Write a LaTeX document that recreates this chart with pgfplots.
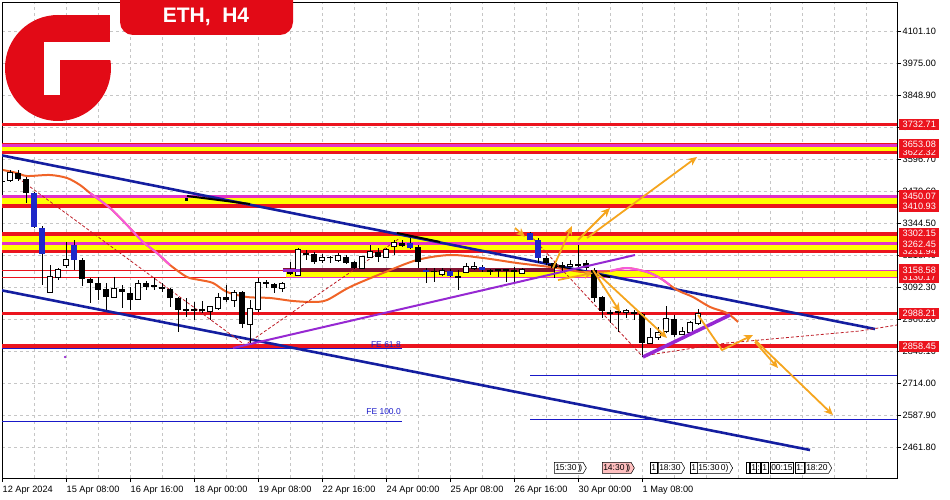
\documentclass[border=0pt]{standalone}
\usepackage{fontspec}
\setmainfont{Liberation Sans}
\usepackage{pgfplots}
\pgfplotsset{compat=1.18}
\usepackage{pgfplotstable}
\usetikzlibrary{arrows.meta,shapes.symbols}

\definecolor{lvlred}{RGB}{235,20,30}
\definecolor{magline}{RGB}{225,50,200}
\definecolor{chblue}{RGB}{20,30,160}
\definecolor{thinblue}{RGB}{25,25,200}
\definecolor{purp}{RGB}{150,40,210}
\definecolor{maorange}{RGB}{240,100,40}
\definecolor{mapink}{RGB}{245,90,220}
\definecolor{arrorange}{RGB}{245,165,30}
\definecolor{zzred}{RGB}{190,30,40}
\definecolor{maroonl}{RGB}{130,20,50}
\definecolor{logored}{RGB}{226,10,22}
\definecolor{candleblue}{RGB}{30,40,200}
\definecolor{bandyellow}{RGB}{255,255,0}

\pgfplotstableread{
i o h l c
1 3514 3553.4 3506 3541.6
6 3072.8 3179.1 3072.8 3131.9
7 3131.9 3167.3 3120 3159.4
8 3179.1 3269.9 3167.3 3198.8
14 3053 3131.9 3053 3084.6
17 3045.2 3120 3045.2 3104.3
26 2997.9 3013.7 2962.4 3013.7
27 3009.8 3068.8 3001.8 3049.1
29 3041.2 3080.6 3013.7 3068.8
31 2946.7 3041.2 2867.9 3005.8
32 3005.8 3127.9 2994 3108.2
35 3088.5 3112.2 3072.8 3104.3
37 3139.7 3246 3135.8 3238.2
40 3198.8 3222.5 3187 3206.7
42 3198.8 3226.4 3190.9 3214.6
45 3167.3 3214.6 3167.3 3210.6
46 3210.6 3257.9 3206.7 3230.4
48 3210.6 3246.1 3206.7 3238.2
49 3254 3277.6 3218.5 3265.8
55 3143.7 3167.3 3135.8 3155.5
58 3151.6 3187 3147.6 3171.2
59 3167.3 3190.9 3159.4 3171.2
65 3147.6 3167.3 3143.7 3159.4
71 3175.2 3198.8 3171.2 3179.1
78 2994 3005.8 2970.3 2997.9
81 2871.8 2931 2871.8 2891.6
82 2895.5 2935 2883.7 2911.2
83 2919.1 3017.6 2911.2 2966.4
85 2907.3 2935 2903.3 2915.2
86 2915.2 2958.5 2911.2 2950.6
87 2950.6 3005.8 2942.8 2986.1
}\bulls

\pgfplotstableread{
i o h l c
0 3508 3514 3500 3506
2 3541.6 3553.4 3510 3517.9
3 3517.9 3525.8 3423.4 3462.8
10 3198.8 3206.7 3096.4 3124.0
11 3124 3127.9 3029.4 3108.2
12 3108.2 3131.9 3041.2 3080.6
13 3084.6 3108.2 3001.8 3053
15 3084.6 3100.3 3009.8 3072.8
16 3068.8 3092.5 3001.8 3041.2
18 3108.2 3116 3080.6 3092.5
19 3096.4 3127.9 3080.6 3094
20 3092.5 3108.2 3072.8 3084.6
21 3084.6 3088.5 3013.7 3049.1
22 3049.1 3053 2915.2 3001.8
23 3005.8 3049.1 2974.3 2997.9
24 3005.8 3033.4 2962.4 2997.9
25 3005.8 3037 2990 2997.9
28 3053 3100.3 3033.4 3041.2
30 3072.8 3076.7 2931 2946.7
33 3112.2 3120 3088.5 3104.3
34 3104.3 3108.2 3068.8 3088.5
36 3151.6 3190.9 3139.7 3143.7
38 3226.4 3238 3198.8 3218.5
39 3222.5 3230.4 3183 3190.9
41 3206.7 3214.6 3187 3205
43 3210.6 3218.5 3183 3187
44 3190.9 3194.9 3163.4 3167.3
47 3230.4 3246.1 3190.9 3210.6
50 3265.8 3277.6 3250 3254
52 3250 3257.9 3167.3 3190.9
54 3151.6 3167.3 3112.2 3150
57 3135.8 3159.4 3080.6 3127.9
61 3159.4 3163.4 3139.7 3151.6
62 3159.4 3163.4 3131.9 3155.5
63 3159.4 3163.4 3112.2 3155.5
64 3155.5 3171.2 3112.2 3151.6
68 3206.7 3214.6 3179.1 3187
69 3187 3190.9 3127.9 3167.3
70 3179.1 3190.9 3147.6 3171.2
72 3179.1 3257.9 3167.3 3175.2
73 3187 3198.8 3159.4 3167.3
74 3159.4 3167.3 3033.4 3049.1
75 3053 3057 2970.3 2997.9
76 2990 3001.8 2950.6 2988
77 2994 2997.9 2915.2 2990
79 2994 3001.8 2962.4 2986.1
80 2986.1 2990 2816.7 2871.8
84 2966.4 2982.1 2895.5 2903.3
}\bears

\pgfplotstableread{
i o h l c
4 3462.8 3466.8 3324.9 3328.9
5 3324.9 3332.8 3100.3 3222.5
9 3257.9 3277.6 3159.4 3198.8
51 3265.8 3285.5 3242 3246.1
53 3159.4 3167.3 3108.2 3151.6
56 3155.5 3163.4 3131.9 3135.8
60 3171.2 3179.1 3151.6 3159.4
66 3305.2 3309.1 3277.6 3277.6
67 3277.6 3285.5 3187 3206.7
}\blues

\pgfplotsset{
  wick/.style={draw=none, mark=none, forget plot,
    error bars/.cd, y dir=both, y explicit, error mark=none,
    error bar style={draw=black, line width=1pt, solid}},
  body/.style 2 args={draw=none, mark=none, forget plot,
    error bars/.cd, y dir=plus, y explicit, error mark=none,
    error bar style={draw=#1, line width=#2, solid}},
  hline/.style={forget plot, mark=none},
}

\begin{document}
\begin{tikzpicture}
\path[use as bounding box] (0pt,0pt) rectangle (950pt,500pt);
\begin{axis}[
  at={(2pt,22pt)}, anchor=south west,
  scale only axis, width=895pt, height=476pt,
  xmin=0, xmax=111.875, ymin=2339.92, ymax=4215.36,
  axis line style={black, line width=0.8pt},
  clip mode=individual,
  xtick={0,8,...,80},
  xticklabels={12 Apr 2024,15 Apr 08:00,16 Apr 16:00,18 Apr 00:00,19 Apr 08:00,22 Apr 16:00,24 Apr 00:00,25 Apr 08:00,26 Apr 16:00,30 Apr 00:00,1 May 08:00},
  minor xtick={4,8,...,108},
  ytick={2461.8,2587.9,2714,2840.1,2966.2,3092.3,3218.4,3344.5,3470.6,3596.7,3722.8,3848.9,3975,4101.1},
  yticklabel pos=right, ytick pos=right, xtick pos=bottom,
  tick align=outside, major tick length=4pt, minor tick length=0pt,
  tick style={black, line width=0.6pt},
  grid=both,
  major grid style={dash pattern=on 3pt off 3pt, gray!45, line width=0.6pt},
  minor grid style={dash pattern=on 3pt off 3pt, gray!45, line width=0.6pt},
  tick label style={font=\fontsize{9.2}{10}\selectfont},
  xticklabel style={anchor=north west, inner xsep=0.5pt, yshift=-1pt},
  yticklabel style={anchor=west, inner xsep=1.5pt,
    /pgf/number format/.cd, fixed, fixed zerofill, precision=2, 1000 sep={}, assume math mode=true},
]
% ---------- yellow bands ----------
\addplot[hline, fill=bandyellow, draw=none] coordinates {(0,3622.32) (111.875,3622.32) (111.875,3653.08) (0,3653.08)};
\addplot[hline, fill=bandyellow, draw=none] coordinates {(0,3410.93) (111.875,3410.93) (111.875,3450.07) (0,3450.07)};
\addplot[hline, fill=bandyellow, draw=none] coordinates {(0,3231.94) (111.875,3231.94) (111.875,3302.15) (0,3302.15)};
\addplot[hline, fill=bandyellow, draw=none] coordinates {(35.5,3130.17) (111.875,3130.17) (111.875,3158.58) (35.5,3158.58)};
% ---------- thin levels ----------
\addplot[hline, lvlred, line width=1.2pt] coordinates {(0,3158.58) (111.875,3158.58)};
\addplot[hline, lvlred, line width=1.2pt] coordinates {(0,3130.17) (111.875,3130.17)};
\addplot[hline, magline, line width=1.2pt] coordinates {(35.5,3130.17) (111.875,3130.17)};
\addplot[hline, magline, line width=1.2pt] coordinates {(69,3158.58) (111.875,3158.58)};
\addplot[hline, maroonl, line width=3.5pt] coordinates {(35.1,3158.58) (69.1,3158.58)};
% ---------- thick levels ----------
\addplot[hline, lvlred, line width=3.5pt] coordinates {(0,3732.71) (111.875,3732.71)};
\addplot[hline, lvlred, line width=2pt] coordinates {(0,3656) (111.875,3656)};
\addplot[hline, magline, line width=2.5pt] coordinates {(0,3650) (111.875,3650)};
\addplot[hline, lvlred, line width=3.5pt] coordinates {(0,3622.32) (111.875,3622.32)};
\addplot[hline, magline, line width=3pt] coordinates {(0,3450.07) (111.875,3450.07)};
\addplot[hline, lvlred, line width=3.5pt] coordinates {(0,3410.93) (111.875,3410.93)};
\addplot[hline, lvlred, line width=3.5pt] coordinates {(0,3302.15) (111.875,3302.15)};
\addplot[hline, magline, line width=3pt] coordinates {(0,3262.45) (111.875,3262.45)};
\addplot[hline, lvlred, line width=3.5pt] coordinates {(0,3231.94) (111.875,3231.94)};
\addplot[hline, lvlred, line width=3.8pt] coordinates {(0,2988.21) (111.875,2988.21)};
\addplot[hline, lvlred, line width=3.8pt] coordinates {(0,2858.45) (111.875,2858.45)};
% ---------- FE lines ----------
\addplot[hline, thinblue, line width=1pt] coordinates {(0,2848.2) (50,2848.2)};
\addplot[hline, thinblue, line width=1pt] coordinates {(0,2560.6) (50,2560.6)};
\addplot[hline, thinblue, line width=1pt] coordinates {(66,2745.7) (111.875,2745.7)};
\addplot[hline, thinblue, line width=1pt] coordinates {(66,2568.5) (111.875,2568.5)};
\node[anchor=south east, text=thinblue, font=\fontsize{8.5}{9}\selectfont, inner sep=1pt] at (axis cs:50,2850) {FE 61.8};
\node[anchor=south east, text=thinblue, font=\fontsize{8.5}{9}\selectfont, inner sep=1pt] at (axis cs:50,2585) {FE 100.0};
% ---------- channels ----------
\addplot[hline, chblue, line width=2.6pt] coordinates {(-0.25,3612.54) (109.125,2926.98)};
\addplot[hline, chblue, line width=2.6pt] coordinates {(-0.25,3080.64) (101,2450.24)};
\addplot[hline, black, line width=2pt] coordinates {(23.125,3451.0) (31,3419.5)};
\addplot[hline, black, line width=2pt] coordinates {(49.375,3305.2) (54.75,3269.8)};
\addplot[hline, black, line width=2pt] coordinates {(68.25,3179.1) (76,3131.9)};
% ---------- moving average ----------
\addplot[hline, maorange, line width=2pt, smooth] coordinates {
(0.125,3553.4) (1.875,3541.6) (3.125,3529.8) (6,3533.7) (8.125,3521.9) (9.75,3494.3)
(11,3462.8) (13.5,3403.7) (15.625,3336.7) (17.625,3269.9) (19.375,3226.4) (21,3179.1)
(23.125,3131.9) (24.75,3120) (26.375,3108.2) (28.125,3072.8) (30.625,3053) (33.5,3049.1)
(36.375,3037.3) (38.875,3033.4) (40.625,3041.2) (43.5,3092.5) (47.625,3147.6) (51.875,3198.8)
(56,3218.5) (60.125,3206.7) (64.375,3187) (68.5,3171.2) (72.625,3151.6) (76,3155.5)
(78.125,3167.3) (80.625,3151.6) (82.25,3127.9) (84.375,3080.6) (86.375,3053) (88.5,3013.7)
(90.625,2990) (92,2954.6)};
\addplot[hline, mapink, line width=2pt, smooth] coordinates {
(11,3462.8) (13.5,3403.7) (15.625,3336.7) (17.625,3269.9) (19.375,3226.4) (21,3179.1)};
\addplot[hline, mapink, line width=2pt, smooth] coordinates {
(76,3155.5) (78.125,3167.3) (80.625,3151.6) (82.25,3127.9) (83.5,3100)};
% ---------- zigzag ----------
\addplot[hline, zzred, line width=0.8pt, dash pattern=on 3pt off 2pt] coordinates {(2,3521.9) (30.375,2864.0) (49.75,3285.5)};
\addplot[hline, zzred, line width=0.8pt, dash pattern=on 3pt off 2pt] coordinates {(66,3297.3) (80,2820.6) (90.6,2871.8) (107.25,2919.1) (111.875,2942.7)};
% ---------- candles ----------
\addplot[wick] table[x=i, y=o, y error plus expr=\thisrow{h}-\thisrow{o}, y error minus expr=\thisrow{o}-\thisrow{l}] {\bears};
\addplot[wick] table[x=i, y=o, y error plus expr=\thisrow{h}-\thisrow{o}, y error minus expr=\thisrow{o}-\thisrow{l}] {\blues};
\addplot[wick] table[x=i, y=o, y error plus expr=\thisrow{h}-\thisrow{o}, y error minus expr=\thisrow{o}-\thisrow{l}] {\bulls};
\addplot[body={black}{6pt}] table[x=i, y=c, y error plus expr={max(\thisrow{o}-\thisrow{c},6)}] {\bears};
\addplot[body={candleblue}{6pt}] table[x=i, y=c, y error plus expr={max(\thisrow{o}-\thisrow{c},6)}] {\blues};
\addplot[body={black}{6pt}] table[x=i, y expr=\thisrow{o}-3, y error plus expr={max(\thisrow{c}-\thisrow{o},6)+6}] {\bulls};
\addplot[body={white}{4pt}] table[x=i, y expr=\thisrow{o}+1, y error plus expr={max(\thisrow{c}-\thisrow{o},6)-2}] {\bulls};
\addplot[hline, only marks, mark=square*, mark size=1.3pt, black] coordinates {(23,3439)};
\addplot[hline, only marks, mark=*, mark size=1pt, purp] coordinates {(7.9,2816.7)};
% ---------- purple lines ----------
\addplot[hline, purp, line width=2pt] coordinates {(28.875,2852.1) (79.125,3218.5)};
\addplot[hline, purp, line width=3.5pt] coordinates {(80.125,2816.7) (91,2982.1)};
\addplot[hline, purp, line width=3pt] coordinates {(35.1,3159.4) (37.25,3159.4)};
% ---------- projection arrows ----------
\pgfplotsset{arr/.style={hline, arrorange, line width=1.8pt, -{Stealth[length=9pt,width=8pt]}}}
\addplot[arr] coordinates {(68.875,3167.3) (71.25,3332.8)};
\addplot[arr] coordinates {(72,3277.6) (76,3403.7)};
\addplot[arr] coordinates {(73.125,3285.5) (86.875,3604.7)};
\addplot[arr] coordinates {(69.5,3120.0) (73.875,3147.6)};
\addplot[arr] coordinates {(73.875,3159.4) (77.25,2994.0)};
\addplot[arr] coordinates {(74.375,3147.6) (83.125,2891.5)};
\addplot[arr] coordinates {(87,2982.1) (90,2844.2) (93.875,2903.3)};
\addplot[arr] coordinates {(94.125,2875.8) (97,2773.3)};
\addplot[arr] coordinates {(94.125,2883.6) (103.875,2588.1)};
\addplot[arr] coordinates {(64.125,3324.9) (65.375,3290)};
% ---------- coordinates for price boxes ----------
\coordinate (P1) at (axis cs:111.875,3732.71);
\coordinate (P2) at (axis cs:111.875,3653.08);
\coordinate (P3) at (axis cs:111.875,3622.32);
\coordinate (P4) at (axis cs:111.875,3450.07);
\coordinate (P5) at (axis cs:111.875,3410.93);
\coordinate (P6) at (axis cs:111.875,3302.15);
\coordinate (P7) at (axis cs:111.875,3262.45);
\coordinate (P8) at (axis cs:111.875,3231.94);
\coordinate (P9) at (axis cs:111.875,3158.58);
\coordinate (P10) at (axis cs:111.875,3130.17);
\coordinate (P11) at (axis cs:111.875,2988.21);
\coordinate (P12) at (axis cs:111.875,2858.45);
\end{axis}
% ---------- price boxes ----------
\tikzset{pbox/.style={fill=lvlred, text=white, font=\fontsize{9.2}{10}\selectfont, inner xsep=3.5pt, inner ysep=1.2pt, minimum height=11.5pt, anchor=west, xshift=2pt}}
\node[pbox] at (P1) {3732.71};
\node[pbox] at (P3) {3622.32};
\node[pbox] at (P2) {3653.08};
\node[pbox] at (P5) {3410.93};
\node[pbox] at (P4) {3450.07};
\node[pbox] at (P8) {3231.94};
\node[pbox] at (P7) {3262.45};
\node[pbox] at (P6) {3302.15};
\node[pbox] at (P10) {3130.17};
\node[pbox] at (P9) {3158.58};
\node[pbox] at (P11) {2988.21};
\node[pbox] at (P12) {2858.45};
% ---------- event markers ----------
\tikzset{evt/.style={draw=black, fill=white, line width=0.5pt, font=\fontsize{8.5}{9}\selectfont, inner xsep=1pt, inner ysep=0.5pt, minimum height=11pt, anchor=west},
  evs/.style={evt, signal, signal to=east, signal pointer angle=120}}
\node[evs] at (554pt,32pt) {15:30\,)\!)};
\node[evs, fill=red!25] at (602pt,32pt) {14:30\,)\!)};
\node[evt] at (650pt,32pt) {1};
\node[evs] at (658pt,32pt) {18:30};
\node[evt] at (690pt,32pt) {1};
\node[evs] at (697pt,32pt) {15:30\,0)};
\node[evt, minimum width=3pt] at (746pt,32pt) {};
\node[evt] at (750pt,32pt) {1};
\node[evt] at (756pt,32pt) {:};
\node[evt] at (761pt,32pt) {1};
\node[evt] at (770pt,32pt) {00:15};
\node[evt] at (795pt,32pt) {1:};
\node[evs] at (805pt,32pt) {18:20};
% ---------- logo ----------
\fill[logored] (58pt,432pt) circle[radius=53pt];
\fill[logored] (58pt,458pt) rectangle (110pt,485pt);
\fill[white] (44pt,458pt) rectangle (116pt,440pt);
\fill[white] (44pt,440pt) rectangle (60pt,405pt);
% ---------- title ----------
\fill[logored, rounded corners=13pt] (120pt,465pt) rectangle (293pt,520pt);
\node[text=white, font=\fontsize{21}{24}\selectfont\bfseries] at (206pt,483pt) {ETH,\ \ H4};
\end{tikzpicture}
\end{document}
